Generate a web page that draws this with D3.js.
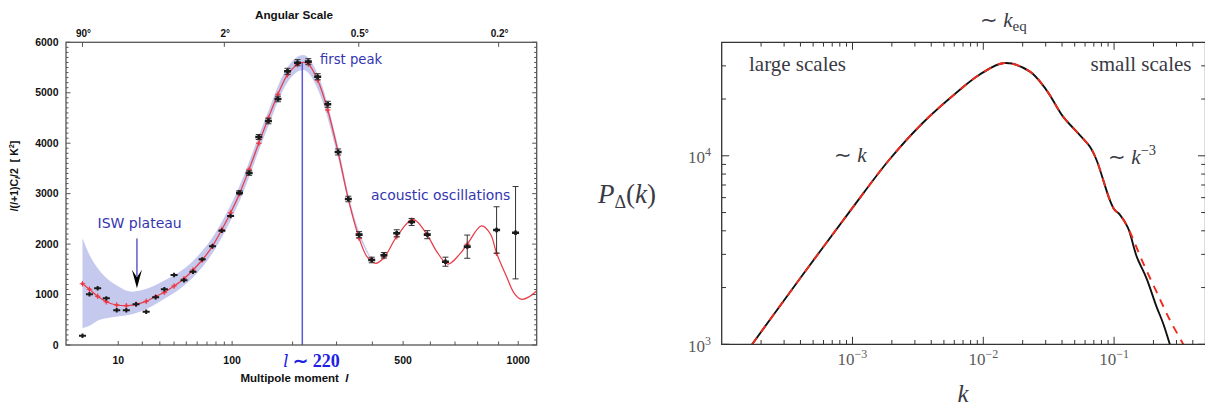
<!DOCTYPE html>
<html><head><meta charset="utf-8">
<script src="https://cdn.jsdelivr.net/npm/d3@7"></script>
<style>body{margin:0;background:#fff}svg{display:block}text{white-space:pre}</style>
</head><body>
<svg id="chart" width="1205" height="409"></svg>
<script>
// ================= LEFT PANEL DATA (CMB TT spectrum) =================
const binL      = [2,3,4.5,6.5,9.5,12.9,17,22,27.4,33,40,48,56,65,76,87,98,110,124,139,155,172,190,210,233,254,278,304,331,361,398,436,478,530,588,660,753,890,986];
const observed  = [184,1005,1124,925,688,688,807,660,945,1104,1387,1282,1453,1698,1956,2266,2557,3019,3409,4123,4440,4876,5425,5596,5616,5318,4771,3826,2894,2187,1685,1778,2214,2438,2187,1651,1949,2280,2226];
const observedErr = [0,0,0,0,0,0,0,0,0,0,0,0,0,0,0,0,0,40,45,50,55,55,60,60,60,60,60,60,55,60,55,55,70,70,80,90,230,460,915];
const modelBinned = [1215,1104,965,858,793,779,807,866,957,1045,1169,1314,1487,1685,1960,2290,2620,3000,3483,3998,4500,4969,5358,5560,5570,5253,4658,3820,2894,2115,1700,1750,2147,2470,2200,1640,1996,1818,null];
const theoryL   = [2,3,4.5,6.5,9.5,13,17,22,27,33,40,48,56,65,76,87,98,110,124,139,155,172,190,210,222,233,254,278,304,331,361,385,410,436,478,535,588,625,670,720,753,818,860,890,940,980,1018,1060,1100];
const theoryDl  = [1215,1104,965,858,793,779,807,866,957,1045,1169,1314,1487,1685,1960,2290,2620,3000,3483,3998,4500,4969,5358,5560,5600,5570,5253,4658,3820,2894,2115,1740,1620,1730,2147,2490,2180,1850,1605,1800,1996,2359,2200,1818,1354,1020,906,960,1076];
const bandL     = [2,3,4.8,9.3,15.3,23,33.6,45,59,80,110,150,190,222,260,300,340,400];
const bandHi    = [2115,1790,1487,1189,1057,1124,1288,1460,1730,2240,3150,4490,5510,5750,5250,4070,2720,1670];
const bandLo    = [331,380,496,561,608,727,926,1120,1400,1930,2850,4190,5210,5450,4950,3830,2580,1630];
const yTicksLeft  = [0,1000,2000,3000,4000,5000,6000];
const xMajorLeft  = [10,100,500,1000];
const xMinorLeft  = [20,30,40,50,60,70,80,90,200,300,400,600,700,800,900];
const angularL      = [2,90,360,900];
const angularLabels = ["90°","2°","0.5°","0.2°"];
const firstPeakL = 220;

// ================= RIGHT PANEL DATA (matter power spectrum) =================
const kWiggle = [1.26e-4,1.71e-4,3.98e-4,9.73e-4,1.91e-3,3.44e-3,6.19e-3,9.35e-3,1.45e-2,2.26e-2,3.03e-2,4.06e-2,5.15e-2,6.52e-2,7.33e-2,9.27e-2,0.101,0.111,0.128,0.149,0.177,0.211,0.237,0.267,0.302];
const pWiggle = [741,1000,2239,5164,9528,14930,21530,26920,31050,28050,22390,16180,13460,11190,9528,5834,5164,4864,4130,2917,2239,1585,1294,1000,759];
const kSmooth = [1.26e-4,1.71e-4,3.98e-4,9.73e-4,1.91e-3,3.44e-3,6.19e-3,9.35e-3,1.45e-2,2.26e-2,3.03e-2,4.06e-2,5.15e-2,6.52e-2,7.33e-2,9.27e-2,0.101,0.111,0.128,0.167,0.211,0.267,0.338,0.38];
const pSmooth = [741,1000,2239,5164,9528,14930,21530,26920,31050,28050,22390,16180,13460,11190,9528,5834,5164,4864,4130,2692,1901,1346,1000,851];
const kMajor = [1e-3,1e-2,1e-1];
const pMajor = [1e3,1e4];

const svg = d3.select("#chart");

// ---------------- LEFT PANEL ----------------
const xL = d3.scalePow().exponent(0.4).domain([0.52,1100]).range([66,536.7]);
const yL = d3.scaleLinear().domain([0,6000]).range([345,42.3]);
const gL = svg.append("g");
const sansB = "'Liberation Sans',Arial,sans-serif";

// cosmic variance band
const bandData = bandL.map((l,i)=>({l,hi:bandHi[i],lo:bandLo[i]}));
gL.append("path").datum(bandData)
  .attr("d", d3.area().x(d=>xL(d.l)).y0(d=>yL(d.lo)).y1(d=>yL(d.hi)).curve(d3.curveMonotoneX))
  .attr("fill","#c6c9ee").attr("stroke","none");

// first peak line
gL.append("line").attr("x1",xL(firstPeakL)).attr("x2",xL(firstPeakL))
  .attr("y1",yL(5600)).attr("y2",yL(0)).attr("stroke","#5a5ad8").attr("stroke-width",1.5);

// theory curve
const theory = theoryL.map((l,i)=>[l,theoryDl[i]]);
gL.append("path").datum(theory)
  .attr("d", d3.line().x(d=>xL(d[0])).y(d=>yL(d[1])).curve(d3.curveCatmullRom.alpha(0.5)))
  .attr("fill","none").attr("stroke","#ea3c48").attr("stroke-width",1.25);

// model binned markers (red +)
binL.forEach((l,i)=>{
  const v = modelBinned[i]; if (v==null) return;
  const x = xL(l), y = yL(v);
  gL.append("circle").attr("cx",x).attr("cy",y).attr("r",1.6).attr("fill","#ec4a55");
  gL.append("path").attr("d",`M${x-2.8},${y}H${x+2.8}M${x},${y-2.8}V${y+2.8}`)
    .attr("stroke","#ec3a45").attr("stroke-width",1.1);
});

// observed data
binL.forEach((l,i)=>{
  const x = xL(l), y = yL(observed[i]), e = observedErr[i];
  if (e>0){
    const y1 = yL(observed[i]+e), y2 = yL(observed[i]-e);
    gL.append("path").attr("d",`M${x},${y1}V${y2}M${x-3},${y1}H${x+3}M${x-3},${y2}H${x+3}`)
      .attr("stroke","#333").attr("stroke-width",1).attr("fill","none");
  }
  gL.append("path").attr("d",`M${x-3.5},${y}H${x+3.5}M${x},${y-2.2}V${y+2.2}`)
    .attr("stroke","#1a1a1a").attr("stroke-width",e>0?2.6:2);
});

// frame & ticks
const fr = {x0:xL.range()[0], x1:xL.range()[1], y0:yL.range()[1], y1:yL.range()[0]};
gL.append("rect").attr("x",fr.x0).attr("y",fr.y0).attr("width",fr.x1-fr.x0).attr("height",fr.y1-fr.y0)
  .attr("fill","none").attr("stroke","#555").attr("stroke-width",1.3);
const tickStroke = "#555";
d3.range(0,6001,100).forEach(v=>{
  const major = v%1000===0, len = major?4.5:2.5, y = yL(v);
  gL.append("path").attr("d",`M${fr.x0},${y}h${len}M${fr.x1},${y}h${-len}`).attr("stroke",tickStroke).attr("stroke-width",1);
});
xMajorLeft.concat(xMinorLeft).forEach(l=>{
  const x = xL(l), len = xMajorLeft.includes(l)?4:3.5;
  gL.append("path").attr("d",`M${x},${fr.y1}v${-len}`).attr("stroke",tickStroke).attr("stroke-width",1);
});
angularL.forEach(l=>{
  gL.append("path").attr("d",`M${xL(l)},${fr.y0}v4.5`).attr("stroke",tickStroke).attr("stroke-width",1);
});

// tick labels
yTicksLeft.forEach(v=>{
  gL.append("text").attr("x",58.5).attr("y",yL(v)+3.6).attr("text-anchor","end")
    .attr("font-family",sansB).attr("font-weight","bold").attr("font-size",10.5).attr("fill","#111").text(v);
});
xMajorLeft.forEach(l=>{
  gL.append("text").attr("x",xL(l)).attr("y",363.5).attr("text-anchor","middle")
    .attr("font-family",sansB).attr("font-weight","bold").attr("font-size",10.5).attr("fill","#111").text(l);
});
angularL.forEach((l,i)=>{
  gL.append("text").attr("x",xL(l)+1).attr("y",36.5).attr("text-anchor","middle")
    .attr("font-family",sansB).attr("font-weight","bold").attr("font-size",10).attr("fill","#111").text(angularLabels[i]);
});
gL.append("text").attr("x",294).attr("y",18.5).attr("text-anchor","middle")
  .attr("font-family",sansB).attr("font-weight","bold").attr("font-size",11.7).attr("fill","#111").text("Angular Scale");
const xt = gL.append("text").attr("x",294.5).attr("y",382).attr("text-anchor","middle")
  .attr("font-family",sansB).attr("font-weight","bold").attr("font-size",11.5).attr("fill","#111");
xt.append("tspan").text("Multipole moment  ");
xt.append("tspan").attr("font-style","italic").text("l");

const yt = gL.append("text").attr("transform","translate(17.5,176) rotate(-90)").attr("text-anchor","middle")
  .attr("font-family",sansB).attr("font-weight","bold").attr("font-size",10.5).attr("fill","#111");
yt.append("tspan").attr("font-style","italic").text("l");
yt.append("tspan").text("(");
yt.append("tspan").attr("font-style","italic").text("l");
yt.append("tspan").text("+1)C");
yt.append("tspan").attr("font-style","italic").attr("font-size",7.5).attr("dy",2.5).text("l");
yt.append("tspan").attr("dy",-2.5).text("/2  [ K");
yt.append("tspan").attr("font-size",7.5).attr("dy",-4).text("2");
yt.append("tspan").attr("dy",4).text("]");

// annotations
const annoFont = "'DejaVu Sans',Verdana,sans-serif";
gL.append("text").attr("x",320).attr("y",64).attr("font-family",annoFont).attr("font-size",13.2)
  .attr("fill","#3434b0").text("first peak");
gL.append("text").attr("x",97.5).attr("y",228).attr("font-family",annoFont).attr("font-size",14)
  .attr("fill","#3434b0").text("ISW plateau");
gL.append("text").attr("x",371).attr("y",199.5).attr("font-family",annoFont).attr("font-size",13.9)
  .attr("fill","#3434b0").text("acoustic oscillations");
const lt = gL.append("text").attr("x",311.5).attr("y",366.5).attr("text-anchor","middle")
  .attr("font-family","'DejaVu Serif','Liberation Serif',serif").attr("font-size",16.5).attr("fill","#2020e6");
lt.append("tspan").attr("font-style","italic").text("l");
lt.append("tspan").attr("font-family","'Liberation Serif',serif").attr("font-size",18).attr("font-weight","bold").text(" ∼ 220");

// ISW arrow
const ax = xL(17.4), aTip = yL(1124);
gL.append("line").attr("x1",ax).attr("x2",ax).attr("y1",238.5).attr("y2",aTip-12)
  .attr("stroke","#5e5ec8").attr("stroke-width",1.5);
gL.append("path").attr("d",`M${ax},${aTip}L${ax-5},${aTip-18.5}L${ax},${aTip-11}L${ax+5},${aTip-18.5}Z`)
  .attr("fill","#000");

// ---------------- RIGHT PANEL ----------------
const xR = d3.scaleLog().domain([1e-4,0.5]).range([721.7,1205.5]);
const yR = d3.scaleLog().domain([1e3,4e4]).range([344.3,42.3]);
const gR = svg.append("g");
const serif = "'Liberation Serif','Times New Roman',serif";
const R = {x0:721.7,x1:1205.5,y0:42.3,y1:344.3};

svg.append("clipPath").attr("id","clipR").append("rect")
  .attr("x",R.x0).attr("y",R.y0).attr("width",R.x1-R.x0).attr("height",R.y1-R.y0);

const lineR = d3.line().x(d=>xR(d[0])).y(d=>yR(d[1])).curve(d3.curveCatmullRom.alpha(0.5));
gR.append("path").datum(kWiggle.map((k,i)=>[k,pWiggle[i]])).attr("clip-path","url(#clipR)")
  .attr("d",lineR).attr("fill","none").attr("stroke","#111").attr("stroke-width",1.9);
gR.append("path").datum(kSmooth.map((k,i)=>[k,pSmooth[i]])).attr("clip-path","url(#clipR)")
  .attr("d",lineR).attr("fill","none").attr("stroke","#ee2a1a").attr("stroke-width",1.9)
  .attr("stroke-dasharray","8,7");

// frame
gR.append("path").attr("d",`M${R.x1},${R.y0}H${R.x0}V${R.y1}H${R.x1}V${R.y0}`)
  .attr("fill","none").attr("stroke","#333").attr("stroke-width",1.3);

// x ticks (log)
const kTicks = [];
[1e-4,1e-3,1e-2,1e-1].forEach(d=>{ for(let m=1;m<=9;m++){ const k=m*d; if(k<=0.5+1e-12 && k>1e-4+1e-12) kTicks.push({k,major:m===1}); } });
kTicks.forEach(t=>{
  const x = xR(t.k), len = t.major?7.5:4.3;
  gR.append("path").attr("d",`M${x},${R.y1}v${-len}M${x},${R.y0}v${len}`).attr("stroke","#333").attr("stroke-width",1);
});
const pTicks = [];
[1e3,1e4].forEach(d=>{ for(let m=1;m<=9;m++){ const p=m*d; if(p<4e4-1) pTicks.push({p,major:m===1}); } });
pTicks.forEach(t=>{
  const y = yR(t.p), len = t.major?7.5:4.3;
  gR.append("path").attr("d",`M${R.x0},${y}h${len}M${R.x1},${y}h${-len}`).attr("stroke","#333").attr("stroke-width",1);
});

// tick labels
const tickCol = "#5a5a5a";
kMajor.forEach(k=>{
  const e = Math.round(Math.log10(k));
  const t = gR.append("text").attr("x",xR(k)).attr("y",365).attr("text-anchor","middle")
    .attr("font-family",serif).attr("font-size",17).attr("fill",tickCol);
  t.append("tspan").text("10");
  t.append("tspan").attr("font-size",12).attr("dy",-7).text("−"+Math.abs(e));
});
pMajor.forEach(p=>{
  const e = Math.round(Math.log10(p));
  const t = gR.append("text").attr("x",711).attr("y",yR(p)+7.3).attr("text-anchor","end")
    .attr("font-family",serif).attr("font-size",17).attr("fill",tickCol);
  t.append("tspan").text("10");
  t.append("tspan").attr("font-size",12).attr("dy",-7).text(String(e));
});

// axis labels
const annCol = "#3a3a44";
const pl = gR.append("text").attr("x",598).attr("y",203).attr("font-family",serif).attr("font-size",27).attr("fill",annCol);
pl.append("tspan").attr("font-style","italic").text("P");
pl.append("tspan").attr("font-size",18).attr("dy",5).text("Δ");
pl.append("tspan").attr("dy",-5).text("(");
pl.append("tspan").attr("font-style","italic").text("k");
pl.append("tspan").text(")");
gR.append("text").attr("x",963).attr("y",401.5).attr("text-anchor","middle").attr("font-family",serif)
  .attr("font-style","italic").attr("font-size",25).attr("fill",annCol).text("k");

// annotations
gR.append("text").attr("x",749).attr("y",71).attr("font-family",serif).attr("font-size",21).attr("fill",annCol).text("large scales");
gR.append("text").attr("x",1191.5).attr("y",71).attr("text-anchor","end").attr("font-family",serif).attr("font-size",21).attr("fill",annCol).text("small scales");
const keq = gR.append("text").attr("x",980).attr("y",27).attr("font-family",serif).attr("font-size",21).attr("fill",annCol);
keq.append("tspan").text("∼ ");
keq.append("tspan").attr("font-style","italic").text("k");
keq.append("tspan").attr("font-size",15).attr("dy",4).text("eq");
const sk = gR.append("text").attr("x",834).attr("y",162).attr("font-family",serif).attr("font-size",21).attr("fill",annCol);
sk.append("tspan").text("∼ ");
sk.append("tspan").attr("font-style","italic").text("k");
const sk3 = gR.append("text").attr("x",1108).attr("y",164).attr("font-family",serif).attr("font-size",21).attr("fill",annCol);
sk3.append("tspan").text("∼ ");
sk3.append("tspan").attr("font-style","italic").text("k");
sk3.append("tspan").attr("font-size",14.5).attr("dy",-9).text("−3");
</script>
</body></html>
